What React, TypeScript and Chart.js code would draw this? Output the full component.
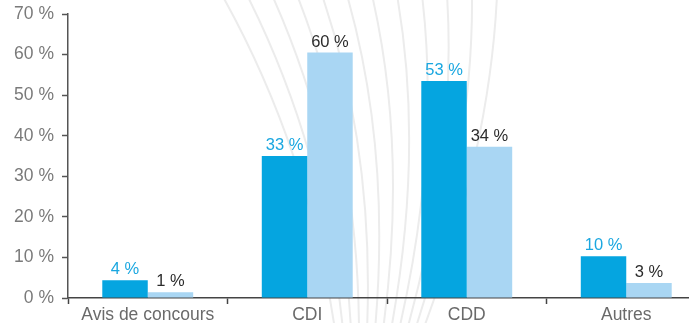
import React, { useEffect, useRef } from "react";
import { Chart, registerables } from "chart.js";

Chart.register(...registerables);

const categories = ["Avis de concours", "CDI", "CDD", "Autres"];
const seriesA = [4.4, 35.0, 53.5, 10.3];
const seriesB = [1.4, 60.5, 37.3, 3.7];
const labelsA = ["4 %", "33 %", "53 %", "10 %"];
const labelsB = ["1 %", "60 %", "34 %", "3 %"];
const yTicks = [0, 10, 20, 30, 40, 50, 60, 70];

const FONT = "'Liberation Sans', Arial, sans-serif";

const bgPlugin = {
  id: "bgArcs",
  beforeDraw(chart: any) {
    const ctx = chart.ctx;
    ctx.save();
    ctx.fillStyle = "#ffffff";
    ctx.fillRect(0, 0, chart.width, chart.height);
    ctx.strokeStyle = "#ececec";
    ctx.lineWidth = 2;
    const n = 12;
    for (let i = 0; i < n; i++) {
      const xt = 222 + i * 25;
      const xb = 335 + i * 8;
      const xc = (xt + xb) / 2 + 30;
      ctx.beginPath();
      ctx.moveTo(xt, -5);
      ctx.quadraticCurveTo(xc, 150, xb, 330);
      ctx.stroke();
    }
    ctx.restore();
  },
};

const labelPlugin = {
  id: "valueLabels",
  afterDatasetsDraw(chart: any) {
    const ctx = chart.ctx;
    ctx.save();
    ctx.font = `16.5px ${FONT}`;
    ctx.textAlign = "center";
    ctx.textBaseline = "alphabetic";
    chart.data.datasets.forEach((ds: any, di: number) => {
      const meta = chart.getDatasetMeta(di);
      const labs = di === 0 ? labelsA : labelsB;
      ctx.fillStyle = di === 0 ? "#1AA7E0" : "#2b2b2b";
      meta.data.forEach((el: any, i: number) => {
        ctx.fillText(labs[i], el.x, el.y - 6);
      });
    });
    ctx.restore();
  },
};

export default function App() {
  const ref = useRef<HTMLCanvasElement>(null);
  useEffect(() => {
    if (!ref.current) return;
    const chart = new Chart(ref.current, {
      type: "bar",
      data: {
        labels: categories,
        datasets: [
          { data: seriesA, backgroundColor: "#05A5E0", borderWidth: 0 },
          { data: seriesB, backgroundColor: "#A9D6F3", borderWidth: 0 },
        ],
      },
      options: {
        responsive: false,
        animation: false,
        layout: { padding: { top: 14, right: 2, left: 0, bottom: 0 } },
        datasets: { bar: { categoryPercentage: 0.57, barPercentage: 1 } },
        plugins: { legend: { display: false }, tooltip: { enabled: false } },
        scales: {
          x: {
            grid: { drawOnChartArea: false, tickLength: 6, color: "#444", tickWidth: 1.5 },
            border: { color: "#444", width: 1.5 },
            ticks: { color: "#6a6a6a", font: { size: 17.5, family: FONT }, padding: 1 },
            afterFit: (s: any) => { s.height = 25; s.paddingLeft = 0; s.paddingRight = 0; },
          },
          y: {
            min: 0,
            max: 70,
            afterBuildTicks: (s: any) => { s.ticks = yTicks.map((v) => ({ value: v })); },
            grid: { drawOnChartArea: false, tickLength: 6, color: "#555", tickWidth: 1.5 },
            border: { color: "#555", width: 1.5 },
            ticks: {
              color: "#7a7a7a",
              font: { size: 17.5, family: FONT },
              padding: 8,
              callback: (v: any) => `${v} %`,
            },
            afterFit: (s: any) => { s.width = 68; s.paddingTop = 0; s.paddingBottom = 0; },
          },
        },
      },
      plugins: [bgPlugin, labelPlugin],
    });
    return () => chart.destroy();
  }, []);
  return (
    <div style={{ position: "fixed", left: 0, top: 0, width: 689, height: 323, overflow: "hidden", background: "#fff" }}>
      <canvas ref={ref} width={708} height={323} style={{ width: 708, height: 323, display: "block" }} />
    </div>
  );
}
